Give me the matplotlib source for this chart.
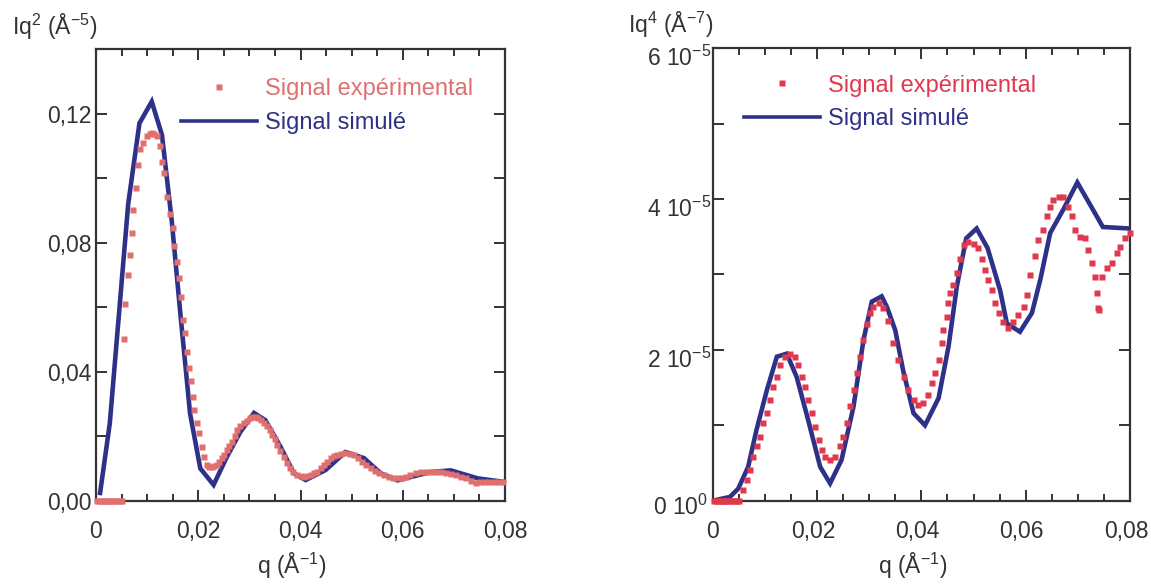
import matplotlib
matplotlib.use('Agg')
import matplotlib.pyplot as plt
import matplotlib.transforms as mtransforms
import numpy as np
from matplotlib.lines import Line2D
from matplotlib.ticker import MultipleLocator

plt.rcParams['font.family'] = ['Liberation Sans', 'DejaVu Sans']
plt.rcParams['mathtext.fontset'] = 'custom'
plt.rcParams['mathtext.rm'] = 'Liberation Sans'
plt.rcParams['mathtext.it'] = 'Liberation Sans:italic'
plt.rcParams['mathtext.default'] = 'regular'

# ---------- left panel: Iq^2 ----------
q_sim_l = [0.0008, 0.0027, 0.0063, 0.0085, 0.0109, 0.0129, 0.0148, 0.0165, 0.0184, 0.0204,
           0.0230, 0.0256, 0.0282, 0.0309, 0.0331, 0.0361, 0.0387, 0.0410, 0.0449, 0.0488,
           0.0524, 0.0557, 0.0590, 0.0655, 0.0694, 0.0747, 0.0800]
iq2_sim = [0.0024, 0.0240, 0.0920, 0.1170, 0.1237, 0.1134, 0.0870, 0.0580, 0.0270, 0.0100,
           0.0049, 0.0136, 0.0212, 0.0272, 0.0250, 0.0167, 0.0085, 0.0064, 0.0095, 0.0151,
           0.0132, 0.0085, 0.0063, 0.0089, 0.0094, 0.0069, 0.0058]

q_exp_l = [0.0002, 0.0006, 0.0010, 0.0014, 0.0018, 0.0022, 0.0026, 0.0030, 0.0034, 0.0038,
           0.0042, 0.0046, 0.0050, 0.0055, 0.0057, 0.0063, 0.0067, 0.0070, 0.0073, 0.0078,
           0.0083, 0.0086, 0.0092, 0.0099, 0.0105, 0.0109, 0.0114, 0.0119, 0.0125, 0.0130,
           0.0133, 0.0139, 0.0145, 0.0150, 0.0153, 0.0158, 0.0163, 0.0167, 0.0170, 0.0175,
           0.0178, 0.0181, 0.0186, 0.0190, 0.0192, 0.0197, 0.0202, 0.0207, 0.0211, 0.0217,
           0.0222, 0.0226, 0.0231, 0.0236, 0.0241, 0.0246, 0.0251, 0.0256, 0.0261, 0.0266,
           0.0271, 0.0276, 0.0282, 0.0289, 0.0295, 0.0302, 0.0307, 0.0312, 0.0317, 0.0322,
           0.0328, 0.0335, 0.0340, 0.0345, 0.0350, 0.0354, 0.0360, 0.0367, 0.0373, 0.0380,
           0.0386, 0.0393, 0.0400, 0.0407, 0.0413, 0.0420, 0.0427, 0.0433, 0.0440, 0.0446,
           0.0452, 0.0459, 0.0466, 0.0472, 0.0480, 0.0488, 0.0497, 0.0505, 0.0513, 0.0521,
           0.0529, 0.0537, 0.0545, 0.0554, 0.0563, 0.0573, 0.0581, 0.0590, 0.0598, 0.0606,
           0.0615, 0.0625, 0.0635, 0.0645, 0.0655, 0.0665, 0.0675, 0.0684, 0.0694, 0.0704,
           0.0714, 0.0724, 0.0734, 0.0743, 0.0751, 0.0760, 0.0769, 0.0778, 0.0787, 0.0796]
iq2_exp = [0.0, 0.0, 0.0, 0.0, 0.0, 0.0, 0.0, 0.0, 0.0, 0.0,
           0.0, 0.0, 0.0, 0.0500, 0.0610, 0.0700, 0.0760, 0.0830, 0.0900, 0.0970,
           0.1040, 0.1090, 0.1110, 0.1130, 0.1138, 0.1140, 0.1138, 0.1130, 0.1100, 0.1050,
           0.1015, 0.0940, 0.0890, 0.0845, 0.0790, 0.0740, 0.0690, 0.0630, 0.0560, 0.0520,
           0.0460, 0.0410, 0.0370, 0.0320, 0.0280, 0.0240, 0.0210, 0.0167, 0.0136, 0.0110,
           0.0104, 0.0105, 0.0107, 0.0110, 0.0120, 0.0131, 0.0143, 0.0157, 0.0170, 0.0183,
           0.0200, 0.0219, 0.0230, 0.0240, 0.0248, 0.0255, 0.0258, 0.0260, 0.0257, 0.0250,
           0.0242, 0.0230, 0.0218, 0.0204, 0.0190, 0.0173, 0.0155, 0.0136, 0.0118, 0.0100,
           0.0090, 0.0080, 0.0076, 0.0074, 0.0076, 0.0080, 0.0085, 0.0090, 0.0100, 0.0110,
           0.0120, 0.0131, 0.0137, 0.0142, 0.0145, 0.0147, 0.0145, 0.0142, 0.0132, 0.0121,
           0.0110, 0.0100, 0.0092, 0.0085, 0.0079, 0.0074, 0.0071, 0.0069, 0.0071, 0.0074,
           0.0079, 0.0085, 0.0088, 0.0090, 0.0090, 0.0090, 0.0088, 0.0085, 0.0083, 0.0080,
           0.0075, 0.0069, 0.0062, 0.0054, 0.0057, 0.0059, 0.0059, 0.0059, 0.0059, 0.0059]

# ---------- right panel: Iq^4 (units of 1e-5) ----------
q_sim_r = [0.0, 0.0033, 0.0049, 0.0068, 0.0084, 0.0104, 0.0123, 0.0142, 0.0161, 0.0183,
           0.0206, 0.0225, 0.0247, 0.0270, 0.0289, 0.0305, 0.0324, 0.0334, 0.0350, 0.0365,
           0.0385, 0.0407, 0.0433, 0.0452, 0.0468, 0.0486, 0.0506, 0.0527, 0.0551, 0.0564,
           0.0589, 0.0612, 0.0628, 0.0647, 0.0672, 0.0699, 0.0724, 0.0748, 0.0800]
iq4_sim = [0.0, 0.05, 0.16, 0.45, 0.94, 1.47, 1.91, 1.95, 1.64, 1.07,
           0.45, 0.23, 0.54, 1.25, 2.13, 2.64, 2.71, 2.57, 2.26, 1.73,
           1.16, 1.00, 1.36, 2.04, 2.84, 3.48, 3.61, 3.35, 2.79, 2.35,
           2.24, 2.49, 2.93, 3.55, 3.86, 4.22, 3.92, 3.63, 3.61]

q_exp_r = [0.0002, 0.0006, 0.0010, 0.0014, 0.0018, 0.0022, 0.0026, 0.0030, 0.0034, 0.0038,
           0.0042, 0.0046, 0.0050, 0.0059, 0.0065, 0.0072, 0.0078, 0.0084, 0.0091, 0.0097,
           0.0104, 0.0110, 0.0116, 0.0123, 0.0129, 0.0139, 0.0148, 0.0158, 0.0164, 0.0171,
           0.0177, 0.0183, 0.0190, 0.0196, 0.0203, 0.0209, 0.0215, 0.0225, 0.0235, 0.0244,
           0.0250, 0.0257, 0.0263, 0.0270, 0.0276, 0.0282, 0.0289, 0.0295, 0.0302, 0.0308,
           0.0318, 0.0327, 0.0337, 0.0346, 0.0356, 0.0366, 0.0375, 0.0385, 0.0394, 0.0404,
           0.0413, 0.0420, 0.0426, 0.0433, 0.0439, 0.0442, 0.0449, 0.0452, 0.0455, 0.0461,
           0.0468, 0.0474, 0.0481, 0.0490, 0.0500, 0.0509, 0.0516, 0.0522, 0.0528, 0.0535,
           0.0541, 0.0548, 0.0557, 0.0567, 0.0576, 0.0586, 0.0596, 0.0602, 0.0608, 0.0618,
           0.0624, 0.0634, 0.0640, 0.0647, 0.0653, 0.0663, 0.0672, 0.0682, 0.0688, 0.0695,
           0.0704, 0.0714, 0.0720, 0.0727, 0.0733, 0.0736, 0.0739, 0.0741, 0.0746, 0.0755,
           0.0765, 0.0775, 0.0781, 0.0791, 0.0800]
iq4_exp = [0.0, 0.0, 0.0, 0.0, 0.0, 0.0, 0.0, 0.0, 0.0, 0.0,
           0.0, 0.0, 0.0, 0.14, 0.27, 0.41, 0.58, 0.72, 0.85, 1.03,
           1.16, 1.34, 1.51, 1.64, 1.80, 1.91, 1.95, 1.91, 1.80, 1.64,
           1.51, 1.34, 1.16, 0.98, 0.80, 0.67, 0.58, 0.54, 0.58, 0.72,
           0.85, 1.03, 1.25, 1.47, 1.69, 1.91, 2.13, 2.35, 2.49, 2.57,
           2.62, 2.55, 2.38, 2.09, 1.87, 1.64, 1.47, 1.34, 1.27, 1.29,
           1.40, 1.56, 1.69, 1.87, 2.09, 2.26, 2.44, 2.62, 2.75, 2.86,
           3.02, 3.21, 3.39, 3.43, 3.41, 3.35, 3.21, 3.06, 2.93, 2.80,
           2.62, 2.49, 2.37, 2.29, 2.37, 2.46, 2.57, 2.73, 2.99, 3.24,
           3.46, 3.59, 3.77, 3.90, 3.99, 4.03, 4.03, 3.90, 3.77, 3.59,
           3.50, 3.48, 3.32, 3.15, 2.97, 2.75, 2.55, 2.53, 2.97, 3.08,
           3.15, 3.28, 3.37, 3.48, 3.55]

q_ticks = [0, 0.02, 0.04, 0.06, 0.08]
q_ticklabels = ['0', '0,02', '0,04', '0,06', '0,08']
iq2_ticks = [0, 0.04, 0.08, 0.12]
iq2_ticklabels = ['0,00', '0,04', '0,08', '0,12']
iq4_ticks = [0, 2e-5, 4e-5, 6e-5]
iq4_ticklabels = ['0 10$^{0}$', '2 10$^{-5}$', '4 10$^{-5}$', '6 10$^{-5}$']

navy = '#2E3188'
salmon = '#E07070'
crimson = '#E0394F'
axcol = '#333333'

W, H = 1151, 584
fig = plt.figure(figsize=(W / 100, H / 100), dpi=100)
ax1 = fig.add_axes([96 / W, 1 - 500.7 / H, 409 / W, 451.7 / H])
ax2 = fig.add_axes([712.7 / W, 1 - 500.7 / H, 417.3 / W, 452.4 / H])


def style(ax):
    for s in ax.spines.values():
        s.set_linewidth(1.6)
        s.set_color(axcol)
    ax.tick_params(which='both', direction='in', top=True, right=True,
                   width=1.4, color=axcol, labelsize=16.5, labelcolor=axcol)
    ax.tick_params(axis='x', which='major', length=8, pad=14)
    ax.tick_params(axis='x', which='minor', length=5)
    ax.tick_params(axis='y', which='both', length=8)
    ax.xaxis.set_minor_locator(MultipleLocator(0.005))
    ax.set_xlim(0, 0.08)
    ax.set_xticks(q_ticks)
    ax.set_xticklabels(q_ticklabels)
    ax.set_xlabel('q (Å$^{-1}$)', fontsize=16.5, color=axcol)


# left panel
ax1.plot(q_sim_l, iq2_sim, color=navy, lw=3.3, solid_joinstyle='miter', zorder=2)
ax1.plot(q_exp_l, iq2_exp, 's', color=salmon, ms=4.2, mec='none', zorder=3, clip_on=False)
style(ax1)
ax1.set_ylim(0, 0.14)
ax1.set_yticks(iq2_ticks)
ax1.set_yticklabels(iq2_ticklabels)
ax1.yaxis.set_minor_locator(MultipleLocator(0.02))
ax1.tick_params(axis='y', pad=3)
ax1.xaxis.set_label_coords(0.479, -0.11)

# right panel
ax2.plot(q_sim_r, np.array(iq4_sim) * 1e-5, color=navy, lw=3.3, solid_joinstyle='miter', zorder=2)
ax2.plot(q_exp_r, np.array(iq4_exp) * 1e-5, 's', color=crimson, ms=4.2, mec='none', zorder=3,
         clip_on=False)
style(ax2)
ax2.set_ylim(0, 6e-5)
ax2.set_yticks(iq4_ticks)
ax2.set_yticklabels(iq4_ticklabels)
ax2.yaxis.set_minor_locator(MultipleLocator(1e-5))
ax2.tick_params(axis='y', pad=1)
ax2.xaxis.set_label_coords(0.478, -0.11)
xshift = mtransforms.ScaledTranslation(-4 / 100, 0, fig.dpi_scale_trans)
for lab in ax2.get_xticklabels()[1:]:
    lab.set_transform(lab.get_transform() + xshift)
yshift = mtransforms.ScaledTranslation(0, -8 / 100, fig.dpi_scale_trans)
for lab in ax2.get_yticklabels()[1:]:
    lab.set_transform(lab.get_transform() + yshift)
# bottom label sits a little lower than the others but must clear the "0" below
bshift = mtransforms.ScaledTranslation(-3 / 100, -4 / 100, fig.dpi_scale_trans)
ax2.get_yticklabels()[0].set_transform(ax2.get_yticklabels()[0].get_transform() + bshift)

# legends
for ax, c_exp, anchor in [(ax1, salmon, (0.208, 0.935)), (ax2, crimson, (0.075, 0.942))]:
    handles = [Line2D([], [], marker='s', ls='none', color=c_exp, ms=4.6, mec='none'),
               Line2D([], [], color=navy, lw=2.6)]
    ax.legend(handles, ['Signal expérimental', 'Signal simulé'], loc='upper left',
              bbox_to_anchor=anchor, frameon=False, fontsize=17, handlelength=3.2,
              handletextpad=0.35, labelspacing=0.5, borderpad=0, borderaxespad=0,
              numpoints=1, labelcolor=[c_exp, navy])

# y axis titles
fig.text(12 / W, 1 - 35 / H, 'Iq$^{2}$ (Å$^{-5}$)', fontsize=16.5, color=axcol, va='baseline')
fig.text(628 / W, 1 - 33 / H, 'Iq$^{4}$ (Å$^{-7}$)', fontsize=16.5, color=axcol, va='baseline')

fig.savefig('out.png', dpi=100, facecolor='white')
